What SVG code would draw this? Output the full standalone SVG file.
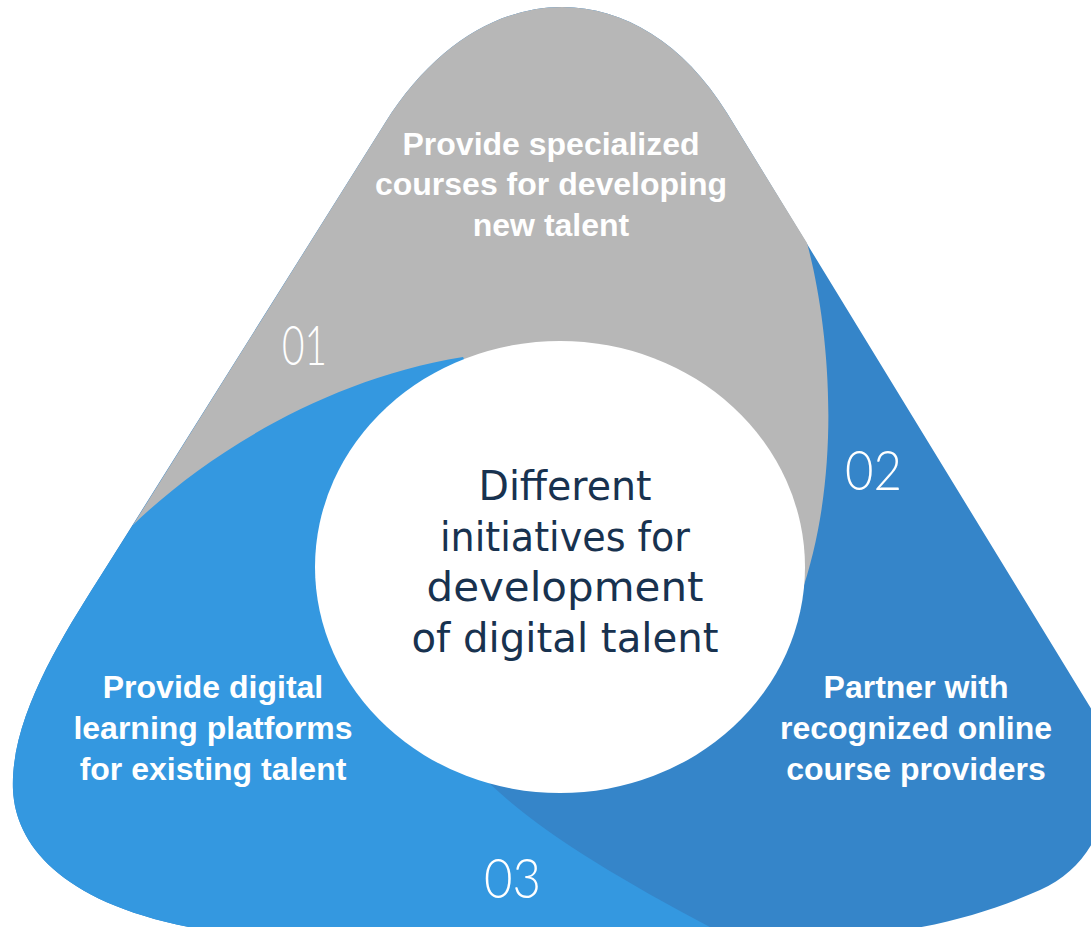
<svg xmlns="http://www.w3.org/2000/svg" width="1091" height="927" viewBox="0 0 1091 927">
  <style>
    .label { font-family: "Liberation Sans", Arial, sans-serif; font-weight: bold; font-size: 32px; fill: #FFFFFF; text-anchor: middle; }
    .num { font-family: Lato, "Liberation Sans", sans-serif; font-weight: 300; font-size: 55px; fill: #FFFFFF; text-anchor: middle; }
    .center { font-family: "DejaVu Sans", "Liberation Sans", sans-serif; font-size: 40px; fill: #18324F; text-anchor: middle; }
  </style>
  <rect width="1091" height="927" fill="#FFFFFF"/>
  <g id="segment-02">
    <path fill="#3585C9" d="M 385,123 C 481,-30 639,-30 727,113 L 1095,715 C 1125,770 1110,860 1040,890 C 990,912 930,930 860,935 L 240,935 C 70,915 16,850 13,790 C 10,720 60,640 98,580 Z"/>
    <text class="num" x="873.5" y="490" textLength="57" lengthAdjust="spacingAndGlyphs">02</text>
    <text class="label" x="916" y="698">Partner with</text>
    <text class="label" x="916" y="739">recognized online</text>
    <text class="label" x="916" y="780">course providers</text>
  </g>
  <g id="segment-01">
    <path fill="#B7B7B7" d="M 385,123 C 481,-30 639,-30 727,113 L 807,243 C 828,320 845,470 800,597 L 560,567 L 133,525 Z"/>
    <text class="label" x="551" y="155">Provide specialized</text>
    <text class="label" x="551" y="195">courses for developing</text>
    <text class="label" x="551" y="236">new talent</text>
    <text class="num" x="304.5" y="365" textLength="45" lengthAdjust="spacingAndGlyphs">01</text>
  </g>
  <g id="segment-03">
    <path fill="#3498E0" d="M 133,525 C 200,460 320,380 463,357 L 560,567 L 488,782 C 540,832 620,880 725,935 L 240,935 C 70,915 16,850 13,790 C 10,720 60,640 98,580 Z"/>
    <text class="label" x="213" y="698">Provide digital</text>
    <text class="label" x="213" y="739">learning platforms</text>
    <text class="label" x="213" y="780">for existing talent</text>
    <text class="num" x="512.5" y="898" textLength="57" lengthAdjust="spacingAndGlyphs">03</text>
  </g>
  <g id="center">
    <ellipse cx="560" cy="567" rx="245" ry="226" fill="#FFFFFF"/>
    <text class="center" x="565" y="500" textLength="173" lengthAdjust="spacingAndGlyphs">Different</text>
    <text class="center" x="565" y="550.5" textLength="250" lengthAdjust="spacingAndGlyphs">initiatives for</text>
    <text class="center" x="565" y="601" textLength="277" lengthAdjust="spacingAndGlyphs">development</text>
    <text class="center" x="565" y="651.5" textLength="307" lengthAdjust="spacingAndGlyphs">of digital talent</text>
  </g>
  <g id="connectors"/>
</svg>
